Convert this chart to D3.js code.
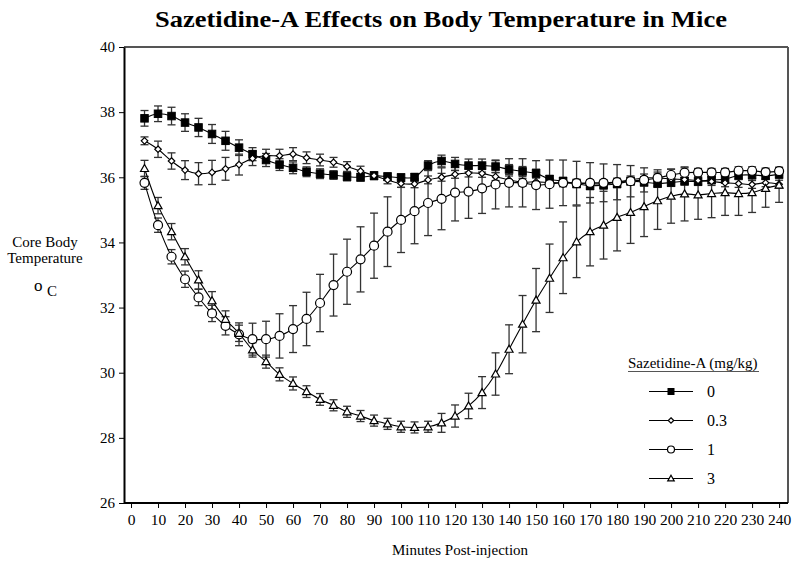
<!DOCTYPE html>
<html>
<head>
<meta charset="utf-8">
<script src="https://cdn.jsdelivr.net/npm/d3@7"></script>
<style>
html,body{margin:0;padding:0;background:#fff;}
svg{display:block;}
text{font-family:"Liberation Serif","Times New Roman",serif;fill:#000;}
</style>
</head>
<body>
<svg id="chart" width="800" height="566"></svg>
<script>
// ---- data ----
const minutes = d3.range(5, 241, 5);
const seriesNames = ["0", "0.3", "1", "3"];
const xTicks = d3.range(0, 241, 10);
const yTicks = [26, 28, 30, 32, 34, 36, 38, 40];

const dose0 = [37.81,37.95,37.88,37.68,37.53,37.33,37.12,36.91,36.71,36.53,36.39,36.29,36.17,36.11,36.07,36.02,36.00,36.05,36.02,35.99,36.00,36.36,36.50,36.41,36.36,36.36,36.33,36.24,36.18,36.12,35.94,35.88,35.80,35.74,35.76,35.80,35.88,35.85,35.81,35.84,35.88,35.87,35.92,35.94,36.06,36.07,36.05,36.09];
const dose03 = [37.12,36.86,36.50,36.22,36.11,36.15,36.26,36.39,36.58,36.66,36.66,36.71,36.60,36.53,36.46,36.33,36.19,36.05,35.92,35.81,35.80,35.92,36.00,36.09,36.13,36.12,36.02,35.92,35.85,35.86,35.84,35.83,35.82,35.80,35.80,35.85,35.92,35.98,35.98,35.95,35.93,35.90,35.87,35.83,35.81,35.78,35.83,35.79];
const dose1 = [35.83,34.53,33.56,32.87,32.31,31.82,31.44,31.18,31.03,31.03,31.13,31.34,31.65,32.14,32.69,33.10,33.48,33.90,34.33,34.69,34.96,35.21,35.34,35.53,35.56,35.66,35.78,35.83,35.83,35.76,35.79,35.83,35.82,35.83,35.83,35.85,35.88,35.92,35.98,36.07,36.14,36.15,36.15,36.15,36.20,36.20,36.16,36.19];
const dose3 = [36.27,35.13,34.33,33.56,32.85,32.21,31.64,31.21,30.70,30.34,29.95,29.67,29.42,29.18,29.00,28.80,28.67,28.53,28.43,28.34,28.32,28.34,28.46,28.67,28.98,29.39,29.96,30.72,31.49,32.23,32.90,33.53,34.02,34.33,34.53,34.77,34.92,35.10,35.28,35.42,35.49,35.46,35.50,35.53,35.50,35.53,35.66,35.76];

const sem0 = [0.24,0.24,0.27,0.27,0.28,0.29,0.29,0.24,0.20,0.20,0.18,0.18,0.15,0.15,0.13,0.13,0.12,0.12,0.12,0.12,0.12,0.15,0.18,0.20,0.20,0.20,0.18,0.15,0.15,0.13,0.12,0.12,0.12,0.12,0.12,0.12,0.12,0.12,0.12,0.12,0.12,0.12,0.12,0.12,0.12,0.12,0.12,0.12];
const sem03 = [0.12,0.25,0.25,0.29,0.34,0.37,0.35,0.32,0.22,0.20,0.20,0.20,0.18,0.18,0.15,0.15,0.15,0.12,0.12,0.12,0.12,0.12,0.12,0.12,0.12,0.12,0.12,0.12,0.12,0.12,0.12,0.12,0.12,0.12,0.12,0.12,0.12,0.12,0.12,0.12,0.12,0.12,0.12,0.12,0.12,0.12,0.12,0.12];
const sem1 = [0.20,0.22,0.22,0.25,0.25,0.25,0.28,0.35,0.49,0.55,0.68,0.72,0.82,0.88,0.95,1.00,1.00,1.00,1.07,1.00,1.00,1.00,0.95,0.87,0.82,0.77,0.75,0.74,0.74,0.75,0.74,0.70,0.67,0.62,0.58,0.54,0.48,0.37,0.25,0.18,0.15,0.12,0.12,0.12,0.12,0.12,0.12,0.12];
const sem3 = [0.25,0.25,0.25,0.25,0.28,0.28,0.26,0.25,0.22,0.20,0.20,0.20,0.18,0.18,0.17,0.17,0.17,0.17,0.17,0.17,0.17,0.17,0.29,0.34,0.39,0.49,0.65,0.75,0.88,0.97,1.05,1.10,1.10,1.05,1.04,1.03,0.95,0.92,0.88,0.83,0.83,0.75,0.74,0.70,0.67,0.61,0.58,0.53];

const seriesValues = [dose0, dose03, dose1, dose3];
const seriesSem = [sem0, sem03, sem1, sem3];
const markerKinds = ["square", "diamond", "circle", "triangle"];

// ---- layout ----
const svg = d3.select("#chart");
const L = 124, R = 788, T = 47, B = 503;
const x = d3.scaleLinear().domain([-2.6, 243.3]).range([L, R]);
const y = d3.scaleLinear().domain([26, 40]).range([B, T]);
const serif = '"Liberation Serif","Times New Roman",serif';

// title
svg.append("text").attr("x", 441).attr("y", 27).attr("text-anchor", "middle")
  .attr("textLength", 572).attr("lengthAdjust", "spacingAndGlyphs")
  .style("font-size", "23px").style("font-weight", "bold")
  .text("Sazetidine-A Effects on Body Temperature in Mice");

// frame top/right
svg.append("line").attr("x1", L).attr("x2", R).attr("y1", T).attr("y2", T)
  .attr("stroke", "#555").attr("stroke-width", 2);
svg.append("line").attr("x1", R).attr("x2", R).attr("y1", T).attr("y2", B)
  .attr("stroke", "#555").attr("stroke-width", 2);

// axes
const xAxis = d3.axisBottom(x).tickValues(xTicks).tickSize(5).tickPadding(6).tickSizeOuter(0);
const gx = svg.append("g").attr("transform", `translate(0,${B})`).call(xAxis);
gx.select(".domain").attr("stroke", "#000").attr("stroke-width", 2).attr("d", `M${L},0H${R}`);
gx.selectAll(".tick line").attr("stroke", "#000").attr("stroke-width", 1);
gx.selectAll(".tick text").style("font-size", "15.5px").style("font-family", serif);

const yAxis = d3.axisLeft(y).tickValues(yTicks).tickSize(5).tickPadding(4).tickSizeOuter(0);
const gy = svg.append("g").attr("transform", `translate(${L},0)`).call(yAxis);
gy.select(".domain").attr("stroke", "#000").attr("stroke-width", 2);
gy.selectAll(".tick line").attr("stroke", "#000").attr("stroke-width", 1);
gy.selectAll(".tick text").style("font-size", "15px").style("font-family", serif);

// axis titles
svg.append("text").attr("x", 460).attr("y", 555).attr("text-anchor", "middle")
  .style("font-size", "15px").text("Minutes Post-injection");
const yl = svg.append("g");
yl.append("text").attr("x", 45).attr("y", 247).attr("text-anchor", "middle").style("font-size", "15px").text("Core Body");
yl.append("text").attr("x", 45).attr("y", 263).attr("text-anchor", "middle").style("font-size", "15px").text("Temperature");
yl.append("text").attr("x", 34).attr("y", 291).style("font-size", "17px").text("o");
yl.append("text").attr("x", 47).attr("y", 296).style("font-size", "15px").text("C");

// marker drawing
function drawMarker(g, kind, cx, cy, s) {
  if (kind === "square") {
    g.append("rect").attr("x", cx - s/2).attr("y", cy - s/2).attr("width", s).attr("height", s)
      .attr("fill", "#000").attr("stroke", "#000").attr("stroke-width", 1);
  } else if (kind === "diamond") {
    const h = s/2;
    g.append("path").attr("d", `M${cx},${cy-h}L${cx+h},${cy}L${cx},${cy+h}L${cx-h},${cy}Z`)
      .attr("fill", "#fff").attr("stroke", "#000").attr("stroke-width", 1.2);
  } else if (kind === "circle") {
    g.append("circle").attr("cx", cx).attr("cy", cy).attr("r", s/2)
      .attr("fill", "#fff").attr("stroke", "#000").attr("stroke-width", 1.2);
  } else {
    const h = s/2;
    g.append("path").attr("d", `M${cx},${cy-h}L${cx+h},${cy+h*0.75}L${cx-h},${cy+h*0.75}Z`)
      .attr("fill", "#fff").attr("stroke", "#000").attr("stroke-width", 1.2);
  }
}
const markerSize = [7.5, 6.5, 9, 8];

const plot = svg.append("g");
const line = d3.line().x(d => x(d[0])).y(d => y(d[1])).curve(d3.curveCatmullRom);

// error bars
seriesValues.forEach((vals, si) => {
  const g = plot.append("g");
  vals.forEach((v, i) => {
    const e = seriesSem[si][i];
    const cx = x(minutes[i]);
    const y1 = y(v + e), y2 = y(v - e);
    g.append("line").attr("x1", cx).attr("x2", cx).attr("y1", y1).attr("y2", y2)
      .attr("stroke", "#333").attr("stroke-width", 1.3);
    [y1, y2].forEach(yy => g.append("line").attr("x1", cx - 4).attr("x2", cx + 4)
      .attr("y1", yy).attr("y2", yy).attr("stroke", "#333").attr("stroke-width", 1.3));
  });
});
// lines
seriesValues.forEach((vals) => {
  plot.append("path").datum(minutes.map((m, i) => [m, vals[i]]))
    .attr("d", line).attr("fill", "none").attr("stroke", "#000").attr("stroke-width", 1.1);
});
// markers
seriesValues.forEach((vals, si) => {
  const g = plot.append("g");
  vals.forEach((v, i) => drawMarker(g, markerKinds[si], x(minutes[i]), y(v), markerSize[si]));
});

// legend
const lg = svg.append("g");
lg.append("text").attr("x", 628).attr("y", 368).style("font-size", "15px").text("Sazetidine-A (mg/kg)");
lg.append("line").attr("x1", 628).attr("x2", 759).attr("y1", 371.5).attr("y2", 371.5)
  .attr("stroke", "#555").attr("stroke-width", 1);
const legendY = [391.5, 420.5, 449.5, 478.5];
seriesNames.forEach((name, i) => {
  lg.append("line").attr("x1", 649).attr("x2", 693).attr("y1", legendY[i]).attr("y2", legendY[i])
    .attr("stroke", "#000").attr("stroke-width", 1.1);
  drawMarker(lg, markerKinds[i], 671, legendY[i], [6, 5.5, 7, 6.5][i]);
  lg.append("text").attr("x", 707).attr("y", legendY[i]).attr("dy", "0.35em")
    .style("font-size", "16px").text(name);
});
</script>
</body>
</html>
